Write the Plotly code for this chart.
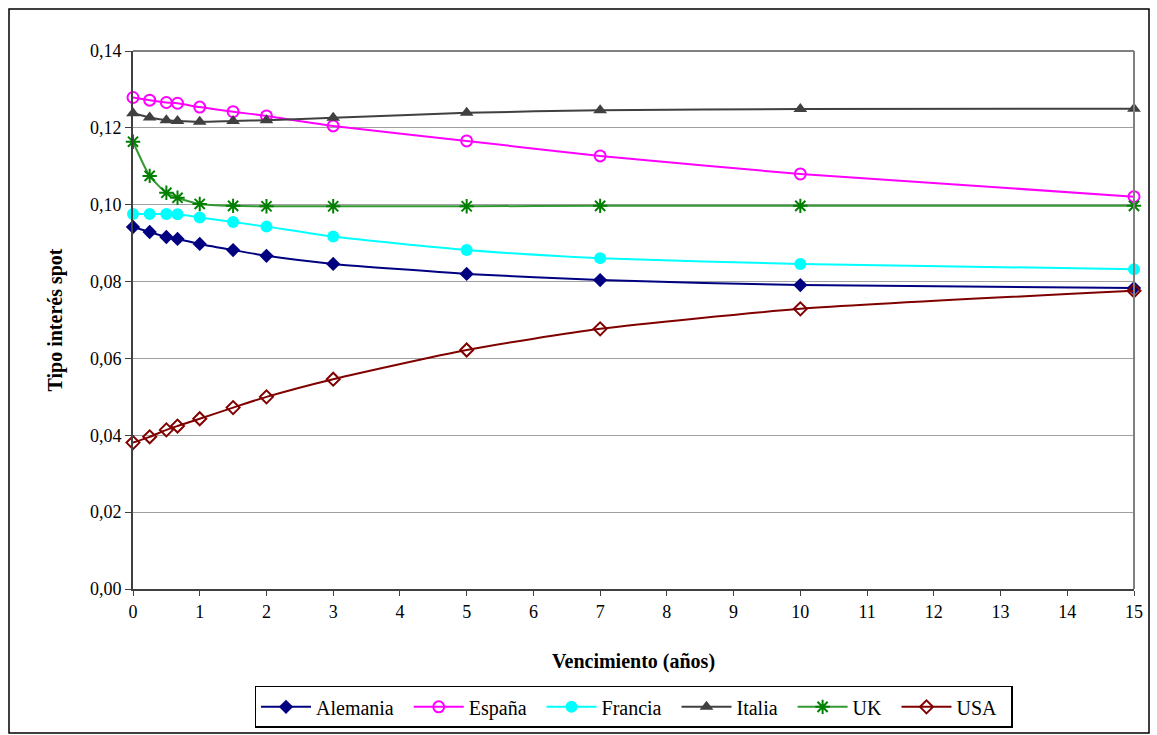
import plotly.graph_objects as go

venc = [0, 0.25, 0.5, 0.667, 1, 1.5, 2, 3, 5, 7, 10, 15]
alemania = [0.0942, 0.0929, 0.0916, 0.0911, 0.0898, 0.0882, 0.0867, 0.0846, 0.0820, 0.0804, 0.0791, 0.0783]
espana = [0.1279, 0.1272, 0.1266, 0.1264, 0.1254, 0.1242, 0.1231, 0.1205, 0.1166, 0.1127, 0.1080, 0.1021]
francia = [0.0976, 0.0976, 0.0976, 0.0975, 0.0967, 0.0955, 0.0943, 0.0917, 0.0882, 0.0861, 0.0846, 0.0832]
italia = [0.1238, 0.1227, 0.1220, 0.1218, 0.1216, 0.1218, 0.1220, 0.1226, 0.1239, 0.1246, 0.1249, 0.1250]
uk = [0.1164, 0.1075, 0.1031, 0.1018, 0.1002, 0.0997, 0.0996, 0.0996, 0.0996, 0.0997, 0.0997, 0.0997]
usa = [0.0381, 0.0396, 0.0414, 0.0424, 0.0443, 0.0472, 0.0500, 0.0546, 0.0622, 0.0677, 0.0729, 0.0776]

y_ticks = [0, 0.02, 0.04, 0.06, 0.08, 0.10, 0.12, 0.14]
x_ticks = list(range(0, 16))

series = [
    ("Alemania", alemania, "#000080", dict(symbol="diamond", size=11, color="#000080")),
    ("España", espana, "#FF00FF", dict(symbol="circle-open", size=11, color="#FF00FF", line=dict(width=2, color="#FF00FF"))),
    ("Francia", francia, "#00FFFF", dict(symbol="circle", size=12, color="#00FFFF")),
    ("Italia", italia, "#404040", dict(symbol="triangle-up", size=12, color="#404040")),
    ("UK", uk, "#339933", dict(symbol="asterisk-open", size=12, color="#008000", line=dict(width=2, color="#008000"))),
    ("USA", usa, "#800000", dict(symbol="diamond-open", size=10, color="#800000", line=dict(width=2, color="#800000"))),
]

fig = go.Figure()
for name, vals, col, mk in series:
    fig.add_trace(go.Scatter(
        x=venc, y=vals, name=name + "  ", mode="lines+markers",
        line=dict(color=col, width=2, shape="spline", smoothing=0.6),
        marker=mk, cliponaxis=False,
    ))

font = "Liberation Serif"
L, R, T, B = 133, 23, 51, 146
W, H = 1157, 735
pw, ph = W - L - R, H - T - B

fig.update_layout(
    width=W, height=H,
    margin=dict(l=L, r=R, t=T, b=B, autoexpand=False),
    paper_bgcolor="white", plot_bgcolor="white",
    separators=",.",
    font=dict(family=font, size=18, color="black"),
    showlegend=True,
    legend=dict(orientation="h", x=0.5, xanchor="center", y=-0.18, yanchor="top",
                bordercolor="black", borderwidth=1.5, font=dict(size=20, family=font),
                itemwidth=50, tracegroupgap=0),
    xaxis=dict(range=[0, 15], tickvals=x_ticks, showgrid=False, zeroline=False,
               showline=True, linecolor="#404040", linewidth=2, mirror=False, automargin=False,
               ticks="outside", ticklen=5, tickcolor="#404040",
               tickfont=dict(size=18, family=font),
               title=dict(text="<b>Vencimiento (años)</b>", font=dict(size=20, family=font), standoff=33)),
    yaxis=dict(range=[0, 0.14], tickvals=y_ticks, tickformat=".2f", showgrid=True,
               gridcolor="#A0A0A0", gridwidth=1, zeroline=False, automargin=False,
               showline=True, linecolor="#404040", linewidth=2,
               ticks="outside", ticklen=6, tickcolor="#404040",
               tickfont=dict(size=18, family=font),
               title=dict(text="<b>Tipo interés spot</b>", font=dict(size=20, family=font), standoff=22)),
    shapes=[
        dict(type="line", xref="paper", yref="paper", x0=0, x1=1, y0=1, y1=1,
             line=dict(color="#808080", width=2)),
        dict(type="line", xref="paper", yref="paper", x0=1, x1=1, y0=0, y1=1,
             line=dict(color="#808080", width=2)),
        dict(type="rect", xref="paper", yref="paper",
             x0=(9 - L) / pw, x1=(1149 - L) / pw,
             y0=(T + ph - 733) / ph, y1=(T + ph - 9) / ph,
             line=dict(color="black", width=1.5), fillcolor="rgba(0,0,0,0)", layer="below"),
    ],
)

fig.write_html("out.html")
